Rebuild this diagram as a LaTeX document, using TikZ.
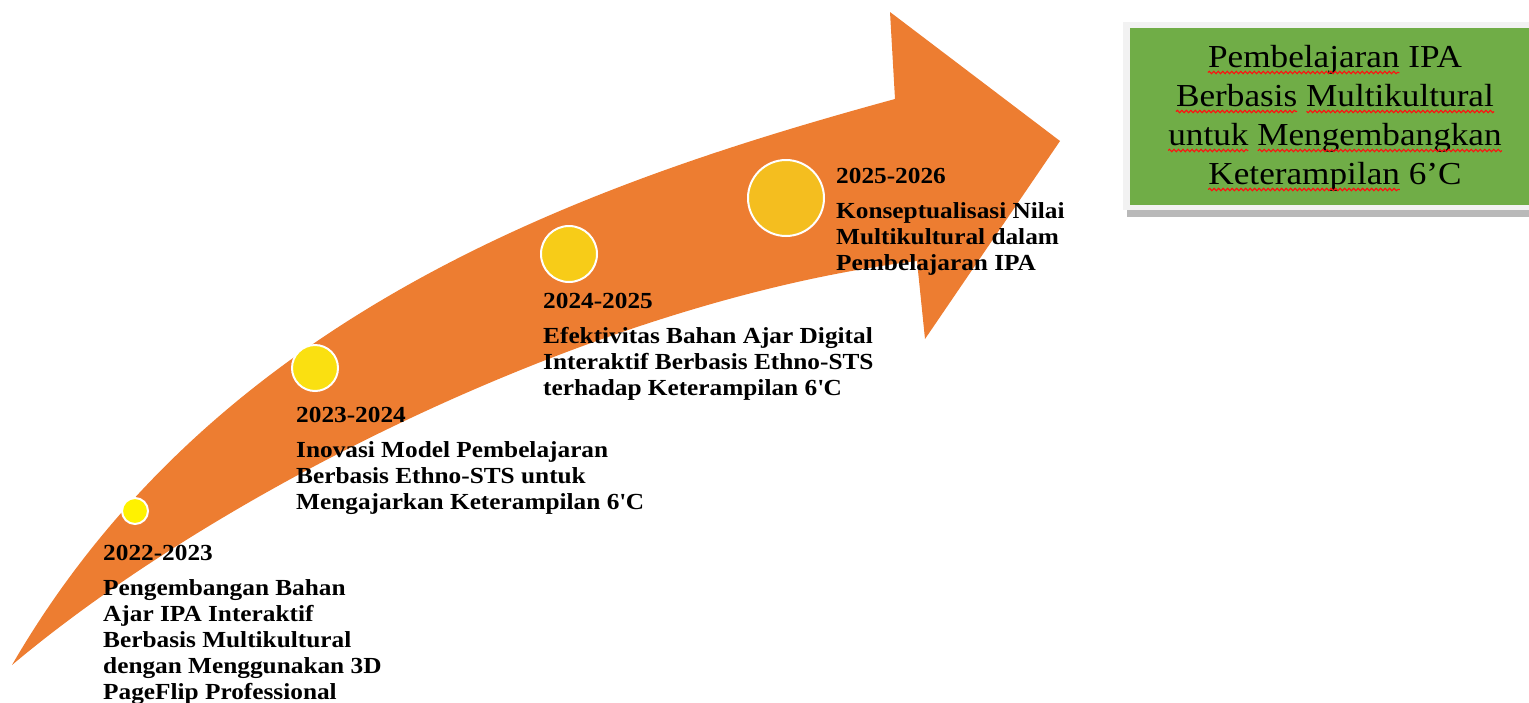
\documentclass[tikz,border=0pt]{standalone}
\usepackage{fontspec}
\setmainfont[FakeStretch=1.1]{Liberation Serif}
\usepackage{tikz}
\usetikzlibrary{decorations.pathmorphing}

\definecolor{arroworange}{HTML}{ED7D31}
\definecolor{goalgreen}{HTML}{70AD47}
\definecolor{dotA}{HTML}{FFF200}
\definecolor{dotB}{HTML}{FAE011}
\definecolor{dotC}{HTML}{F7CC18}
\definecolor{dotD}{HTML}{F4BE1F}
\definecolor{spellred}{HTML}{FF1010}

\newlength\wPembelajaran \newlength\wBerbasis \newlength\wMultikultural
\newlength\wUntuk \newlength\wMengembangkan \newlength\wKeterampilan
\newcommand\goalfont{\fontsize{32}{38}\selectfont}

\begin{document}
\settowidth\wPembelajaran{\goalfont Pembelajaran}
\settowidth\wBerbasis{\goalfont Berbasis}
\settowidth\wMultikultural{\goalfont Multikultural}
\settowidth\wUntuk{\goalfont untuk}
\settowidth\wMengembangkan{\goalfont Mengembangkan}
\settowidth\wKeterampilan{\goalfont Keterampilan}
\begin{tikzpicture}[x=1pt,y=-1pt,
    milestone/.style={circle,draw=white,line width=2pt,inner sep=0pt},
    yeartext/.style={anchor=base west,align=left,inner sep=0pt,
      font=\bfseries\fontsize{23}{26}\selectfont},
    goalline/.style={anchor=base,inner sep=0pt,font=\goalfont},
    spell/.style={spellred,line width=1.1pt,decorate,
      decoration={snake,amplitude=1.2pt,segment length=4.5pt}}]
  \useasboundingbox (0,0) rectangle (1529,702);
  % curved arrow
  \fill[arroworange] (12,665) .. controls (215,315) and (580,185) .. (895,99)
    -- (890,12) -- (1060,141) -- (925,339) -- (917,261)
    .. controls (600,300) and (220,490) .. (12,665) -- cycle;
  % milestones
  \node[milestone,fill=dotA,minimum size=26pt] (c1) at (135,511) {};
  \node[milestone,fill=dotB,minimum size=46pt] (c2) at (315,368) {};
  \node[milestone,fill=dotC,minimum size=56pt] (c3) at (569,254) {};
  \node[milestone,fill=dotD,minimum size=76pt] (c4) at (786,198) {};
  % texts (placed at the baseline of their last line)
  \node[yeartext] (t1) at (103,699) {2022-2023\\[9pt]
    Pengembangan Bahan\\ Ajar IPA Interaktif\\ Berbasis Multikultural\\
    dengan Menggunakan 3D\\ PageFlip Professional};
  \node[yeartext] (t2) at (296,509) {2023-2024\\[9pt]
    Inovasi Model Pembelajaran\\ Berbasis Ethno-STS untuk\\
    Mengajarkan Keterampilan 6\textquotesingle C};
  \node[yeartext] (t3) at (543,395) {2024-2025\\[9pt]
    Efektivitas Bahan Ajar Digital\\ Interaktif Berbasis Ethno-STS\\
    terhadap Keterampilan 6\textquotesingle C};
  \node[yeartext] (t4) at (836,270) {2025-2026\\[9pt]
    Konseptualisasi Nilai\\ Multikultural dalam\\ Pembelajaran IPA};
  % goal box
  \fill[gray!55] (1127,30) rectangle (1529,217);
  \fill[gray!10] (1123,22) rectangle (1529,210);
  \fill[goalgreen] (1130,28) rectangle (1529,205);
  \node[goalline] (g1) at (1335,67) {Pembelajaran IPA};
  \node[goalline] (g2) at (1335,106) {Berbasis Multikultural};
  \node[goalline] (g3) at (1335,145) {untuk Mengembangkan};
  \node[goalline] (g4) at (1335,184) {Keterampilan 6’C};
  % spell-check waves
  \draw[spell] ([yshift=-5.5pt]g1.base west) -- ++(\wPembelajaran,0);
  \draw[spell] ([yshift=-5.5pt]g2.base west) -- ++(\wBerbasis,0);
  \draw[spell] ([yshift=-5.5pt]g2.base east) -- ++(-\wMultikultural,0);
  \draw[spell] ([yshift=-5.5pt]g3.base west) -- ++(\wUntuk,0);
  \draw[spell] ([yshift=-5.5pt]g3.base east) -- ++(-\wMengembangkan,0);
  \draw[spell] ([yshift=-5.5pt]g4.base west) -- ++(\wKeterampilan,0);
\end{tikzpicture}
\end{document}
